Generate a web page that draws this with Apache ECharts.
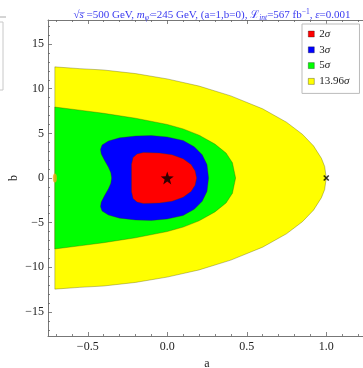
<!DOCTYPE html>
<html>
<head>
<meta charset="utf-8">
<script src="https://cdn.jsdelivr.net/npm/echarts@6/dist/echarts.min.js"></script>
<style>
    html, body {margin: 0; padding: 0; background: #fff;}
    #chart {width: 363px; height: 368px;}
</style>
</head>
<body>
<div id="chart"></div>
<script>
// tick values
const ticksA = [-0.5, 0, 0.5, 1];
const minorA = [-0.7, -0.6, -0.4, -0.3, -0.2, -0.1, 0.1, 0.2, 0.3, 0.4, 0.6, 0.7, 0.8, 0.9, 1.1, 1.2];
const ticksB = [-15, -10, -5, 0, 5, 10, 15];
const minorB = [-17, -16, -14, -13, -12, -11, -9, -8, -7, -6, -4, -3, -2, -1,
    1, 2, 3, 4, 6, 7, 8, 9, 11, 12, 13, 14, 16, 17];

const levels = ['2σ', '3σ', '5σ', '13.96σ'];
const levelColors = ['#ff0000', '#0000ff', '#00ff00', '#ffff00'];

// region boundaries (a, b)
const yellowEdge = [[-0.707, 12.45], [-0.55, 12.25], [-0.4, 12.1], [-0.2, 11.7], [0, 11.1], [0.2, 10.3],
    [0.4, 9.2], [0.6, 7.75], [0.75, 6.25], [0.85, 4.9], [0.92, 3.6], [0.97, 2.2], [0.99, 1.3], [1, 0],
    [0.99, -1.3], [0.97, -2.2], [0.92, -3.6], [0.85, -4.9], [0.75, -6.25], [0.6, -7.75], [0.4, -9.2],
    [0.2, -10.3], [0, -11.1], [-0.2, -11.7], [-0.4, -12.1], [-0.55, -12.25], [-0.707, -12.45]];
const greenEdge = [[-0.707, 7.95], [-0.55, 7.6], [-0.4, 7.25], [-0.2, 6.7], [0, 6.0], [0.1, 5.5], [0.2, 4.8],
    [0.3, 3.8], [0.37, 2.8], [0.41, 1.7], [0.43, 0], [0.41, -1.7], [0.37, -2.8], [0.3, -3.8], [0.2, -4.8],
    [0.1, -5.5], [0, -6.0], [-0.2, -6.7], [-0.4, -7.25], [-0.55, -7.6], [-0.707, -7.95]];
const blueEdge = [[-0.35, 0], [-0.355, 0.6], [-0.37, 1.2], [-0.395, 2], [-0.415, 2.7], [-0.42, 3.2],
    [-0.41, 3.7], [-0.37, 4.15], [-0.3, 4.5], [-0.2, 4.7], [-0.1, 4.75], [0, 4.6], [0.1, 4.2], [0.17, 3.5],
    [0.22, 2.6], [0.25, 1.5], [0.26, 0], [0.25, -1.5], [0.22, -2.6], [0.17, -3.5], [0.1, -4.2], [0, -4.6],
    [-0.1, -4.75], [-0.2, -4.7], [-0.3, -4.5], [-0.37, -4.15], [-0.41, -3.7], [-0.42, -3.2], [-0.415, -2.7],
    [-0.395, -2], [-0.37, -1.2], [-0.355, -0.6]];
const redEdge = [[-0.225, 0], [-0.225, 1.5], [-0.215, 2.3], [-0.19, 2.7], [-0.15, 2.85], [-0.05, 2.8],
    [0.03, 2.6], [0.1, 2.15], [0.15, 1.5], [0.175, 0.8], [0.185, 0], [0.175, -0.8], [0.15, -1.5],
    [0.1, -2.15], [0.03, -2.6], [-0.05, -2.8], [-0.15, -2.85], [-0.19, -2.7], [-0.215, -2.3], [-0.225, -1.5]];

const bestFit = [[0, 0]];
const truePoint = [[1, 0]];
const edgePoint = [[-0.707, 0]];

const serif = 'Liberation Serif';
const starPath = 'path://M0,-10L2.35,-3.24L9.51,-3.09L3.8,1.24L5.88,8.09L0,4L-5.88,8.09L-3.8,1.24L-9.51,-3.09L-2.35,-3.24Z';

function regionSeries(name, points, color) {
    return {
        name: name,
        type: 'custom',
        coordinateSystem: 'cartesian2d',
        silent: true,
        clip: true,
        itemStyle: {color: color},
        data: points,
        renderItem: function (params, api) {
            if (params.dataIndex !== 0) return null;
            return {
                type: 'polygon',
                shape: {points: points.map(p => api.coord(p))},
                style: {fill: color, stroke: 'rgba(60,60,0,0.45)', lineWidth: 0.7}
            };
        }
    };
}

function fmt(v) {
    return String(v).replace('-', '−');
}

const chart = echarts.init(document.getElementById('chart'), null, {renderer: 'canvas'});

const tickStyle = {color: '#666', width: 0.8};
const hidden = {show: false, onZero: false};

const option = {
    animation: false,
    backgroundColor: '#fff',
    title: {
        left: 207,
        top: 3,
        textAlign: 'center',
        text: '√{n|s̅} =500 GeV, {i|m}{sub|φ\'}=245 GeV, (a=1,b=0), ℒ{sub|int}=567 fb{sup|−1}, {i|ε}=0.001',
        textStyle: {
            fontFamily: serif, fontSize: 11, fontWeight: 'normal', color: '#3a3af0', lineHeight: 14,
            rich: {
                n: {fontFamily: serif, fontSize: 11, color: '#3a3af0', fontStyle: 'italic'},
                i: {fontFamily: serif, fontSize: 11, color: '#3a3af0', fontStyle: 'italic'},
                sub: {fontFamily: serif, fontSize: 7.5, color: '#3a3af0', fontStyle: 'italic', verticalAlign: 'bottom', lineHeight: 14},
                sup: {fontFamily: serif, fontSize: 7.5, color: '#3a3af0', verticalAlign: 'top', lineHeight: 14}
            }
        }
    },
    legend: {
        left: 302,
        top: 24,
        orient: 'vertical',
        backgroundColor: '#fff',
        borderColor: '#bbb',
        borderWidth: 1,
        borderRadius: 0,
        padding: [4, 10, 6, 6],
        itemGap: 3.8,
        itemWidth: 6,
        itemHeight: 6,
        icon: 'rect',
        data: levels.map((n, i) => ({
            name: n,
            itemStyle: {color: levelColors[i], borderColor: 'rgba(0,0,0,0.5)', borderWidth: 0.6}
        })),
        formatter: n => n.replace('σ', '{i|σ}'),
        textStyle: {
            fontFamily: serif, fontSize: 11, color: '#222', lineHeight: 12,
            rich: {i: {fontFamily: serif, fontSize: 11, fontStyle: 'italic', color: '#222'}}
        }
    },
    grid: {left: 48, top: 20, right: -3, bottom: 32, outerBoundsMode: 'none', containLabel: false},
    xAxis: [{
        type: 'value', min: -0.75, max: 1.25, position: 'bottom',
        name: 'a', nameLocation: 'middle', nameGap: 16,
        nameTextStyle: {fontFamily: serif, fontSize: 12, color: '#222'},
        splitLine: {show: false},
        axisLine: {onZero: false, lineStyle: {color: '#777', width: 1}},
        axisTick: {inside: true, length: 4, lineStyle: tickStyle, customValues: ticksA},
        axisLabel: {
            customValues: ticksA, margin: 5, fontFamily: serif, fontSize: 12, color: '#222',
            formatter: v => fmt(v.toFixed(1))
        }
    }, {
        type: 'value', min: -0.75, max: 1.25, position: 'bottom',
        splitLine: {show: false}, axisLine: hidden, axisLabel: {show: false},
        axisTick: {inside: true, length: 2, lineStyle: tickStyle, customValues: minorA}
    }, {
        type: 'value', min: -0.75, max: 1.25, position: 'top',
        splitLine: {show: false}, axisLabel: {show: false},
        axisLine: {onZero: false, lineStyle: {color: '#777', width: 1}},
        axisTick: {inside: true, length: 4, lineStyle: tickStyle, customValues: ticksA}
    }, {
        type: 'value', min: -0.75, max: 1.25, position: 'top',
        splitLine: {show: false}, axisLine: hidden, axisLabel: {show: false},
        axisTick: {inside: true, length: 2, lineStyle: tickStyle, customValues: minorA}
    }],
    yAxis: [{
        type: 'value', min: -17.7, max: 17.7, position: 'left',
        splitLine: {show: false},
        axisLine: {show: true, onZero: false, lineStyle: {color: '#777', width: 1}},
        axisTick: {inside: true, length: 4, lineStyle: tickStyle, customValues: ticksB},
        axisLabel: {
            customValues: ticksB, margin: 4, fontFamily: serif, fontSize: 12, color: '#222',
            formatter: v => fmt(v)
        }
    }, {
        type: 'value', min: -17.7, max: 17.7, position: 'left',
        name: 'b', nameLocation: 'middle', nameGap: 28, nameRotate: 90,
        nameTextStyle: {fontFamily: serif, fontSize: 12, color: '#222'},
        splitLine: {show: false}, axisLine: hidden, axisLabel: {show: false},
        axisTick: {inside: true, length: 2, lineStyle: tickStyle, customValues: minorB}
    }],
    series: [
        regionSeries('13.96σ', yellowEdge, levelColors[3]),
        {
            name: 'edge', type: 'scatter', data: edgePoint, symbol: 'circle', symbolSize: [4, 9],
            itemStyle: {color: '#f0a818'}, silent: true
        },
        regionSeries('5σ', greenEdge, levelColors[2]),
        regionSeries('3σ', blueEdge, levelColors[1]),
        regionSeries('2σ', redEdge, levelColors[0]),
        {
            name: 'best', type: 'scatter', data: bestFit, symbol: starPath, symbolSize: 13,
            itemStyle: {color: '#000'}, silent: true
        },
        {
            name: 'true', type: 'scatter', data: truePoint, symbol: 'path://M0,0L10,10M10,0L0,10',
            symbolSize: 5, itemStyle: {color: 'none', borderColor: '#000', borderWidth: 1.6}, silent: true
        }
    ],
    graphic: [
        // edge of the neighbouring panel, cut off on the left
        {type: 'rect', shape: {x: -10, y: 22, width: 13, height: 68}, style: {fill: 'none', stroke: '#c8c8c8', lineWidth: 1}},
        {type: 'line', shape: {x1: 0, y1: 17, x2: 6, y2: 17}, style: {stroke: '#aaa', lineWidth: 1}}
    ]
};

chart.setOption(option);
</script>
</body>
</html>
